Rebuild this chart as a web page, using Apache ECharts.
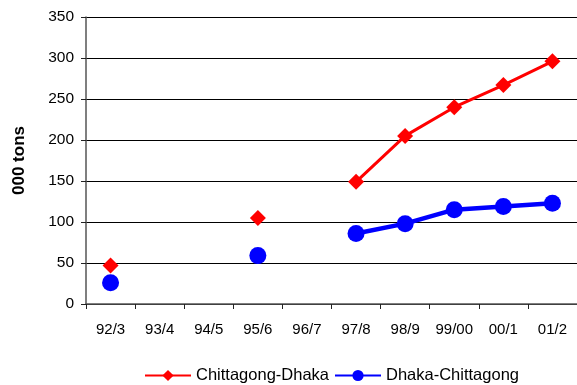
<!DOCTYPE html>
<html>
<head>
<meta charset="utf-8">
<script src="https://cdn.jsdelivr.net/npm/echarts@6/dist/echarts.min.js"></script>
<style>
  html, body { margin: 0; padding: 0; background: #fff; }
  #chart { width: 577px; height: 385px; }
</style>
</head>
<body>
<div id="chart"></div>
<script>
// Freight volumes by fiscal year (thousand tons)
const years = ['92/3', '93/4', '94/5', '95/6', '96/7', '97/8', '98/9', '99/00', '00/1', '01/2'];
const chittagongDhaka = [47, null, null, 105, null, 149, 205, 240, 267, 296];
const dhakaChittagong = [26, null, null, 59, null, 86, 98, 115, 119, 123];
const yTicks = [0, 50, 100, 150, 200, 250, 300, 350];

const chart = echarts.init(document.getElementById('chart'));
const font = 'Liberation Sans, Arial, sans-serif';

chart.setOption({
  animation: false,
  grid: { left: 86, top: 17, width: 499, height: 287, containLabel: false },
  xAxis: {
    type: 'category',
    data: years,
    boundaryGap: true,
    axisLine: { lineStyle: { color: '#555', width: 1.5 } },
    axisTick: { show: true, length: 5, interval: 0, lineStyle: { color: '#222' } },
    axisLabel: { color: '#000', fontFamily: font, fontSize: 15, margin: 18, interval: 0 },
    splitLine: { show: false }
  },
  yAxis: {
    type: 'value',
    min: yTicks[0],
    max: yTicks[yTicks.length - 1],
    interval: 50,
    name: '000 tons',
    nameLocation: 'middle',
    nameGap: 58,
    nameTextStyle: { color: '#000', fontFamily: font, fontSize: 17, fontWeight: 'bold' },
    axisLine: { show: true, lineStyle: { color: '#555', width: 1.5 } },
    axisTick: { show: true, length: 5, lineStyle: { color: '#222' } },
    axisLabel: { color: '#000', fontFamily: font, fontSize: 15.5, margin: 12 },
    splitLine: { show: true, lineStyle: { color: '#000', width: 1 } }
  },
  legend: {
    top: 362,
    left: 139,
    itemWidth: 46,
    itemHeight: 14,
    itemGap: 5,
    textStyle: { color: '#000', fontFamily: font, fontSize: 16.5 },
    data: ['Chittagong-Dhaka', 'Dhaka-Chittagong']
  },
  series: [
    {
      name: 'Chittagong-Dhaka',
      type: 'line',
      data: chittagongDhaka,
      connectNulls: false,
      symbol: 'diamond',
      symbolSize: 16,
      lineStyle: { color: '#ff0000', width: 3 },
      itemStyle: { color: '#ff0000' }
    },
    {
      name: 'Dhaka-Chittagong',
      type: 'line',
      data: dhakaChittagong,
      connectNulls: false,
      symbol: 'circle',
      symbolSize: 17,
      lineStyle: { color: '#0000ff', width: 4.5 },
      itemStyle: { color: '#0000ff' }
    }
  ]
});
</script>
</body>
</html>
